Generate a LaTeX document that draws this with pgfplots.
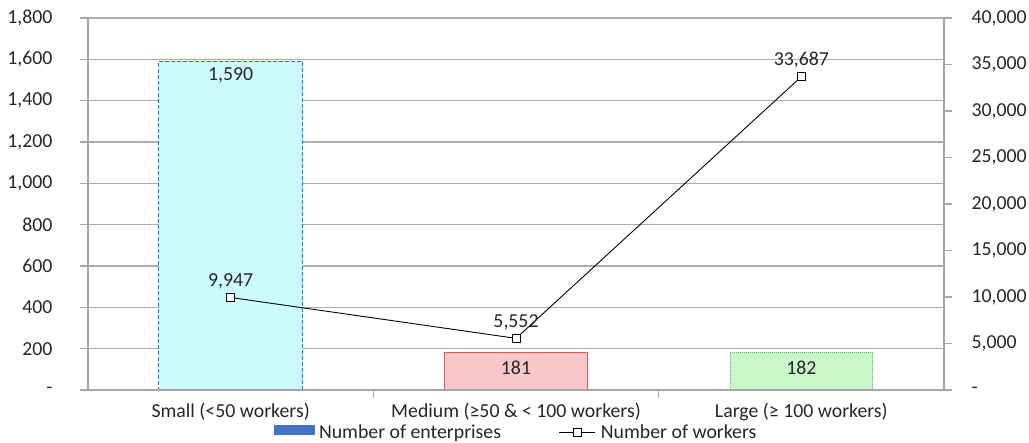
\documentclass[border=0pt]{standalone}
\usepackage{fontspec}
\setmainfont{Carlito}
\usepackage{pgfplots}
\pgfplotsset{compat=1.18}

\definecolor{textcol}{HTML}{262626}
\definecolor{axisgray}{HTML}{A6A6A6}
\definecolor{gridgray}{HTML}{ADADAD}
\definecolor{smallfill}{HTML}{CCFBFD}
\definecolor{smalledge}{HTML}{3366FF}
\definecolor{medfill}{HTML}{F7C8CA}
\definecolor{mededge}{HTML}{E8554E}
\definecolor{largefill}{HTML}{CBF8CB}
\definecolor{largeedge}{HTML}{5DB85D}
\definecolor{legblue}{HTML}{4472C4}

\newcommand\chartfont{\fontsize{19.8}{23}\selectfont}

\pgfplotsset{
  common/.style={
    scale only axis, width=856pt, height=372pt,
    xmin=-0.5, xmax=2.5,
    font=\chartfont,
    axis line style={draw=axisgray, line width=1.2pt, -},
    tick style={draw=axisgray, line width=1.2pt},
    tick align=outside, major tick length=8pt,
    ticklabel style={text=textcol},
    scaled y ticks=false,
    /pgf/number format/assume math mode=true,
    /pgf/number format/1000 sep={,},
  },
  longline legend/.style={
    legend image code/.code={\draw[mark repeat=2, mark phase=2, ##1]
      plot coordinates {(0pt,0pt) (18pt,0pt) (36pt,0pt)};}},
  bar legend/.style={
    legend image code/.code={\fill[legblue] (0pt,-1pt) rectangle (40pt,8pt);}},
}

\begin{document}
\begin{tikzpicture}
% enterprises (left axis)
\begin{axis}[common,
  ymin=0, ymax=1800,
  axis x line*=bottom, axis y line*=left,
  ytick={0,200,...,1800},
  yticklabels={-,200,400,600,800,{1,000},{1,200},{1,400},{1,600},{1,800}},
  yticklabel style={xshift=-24pt},
  ymajorgrids, grid style={draw=gridgray, line width=1.2pt},
  xtick={0,1,2},
  xticklabels={Small (<50 workers), Medium (≥50 \& < 100 workers), Large (≥ 100 workers)},
  x tick style={draw=none},
  xticklabel style={yshift=-1pt},
  nodes near coords,
  nodes near coords align={anchor=north},
  every node near coord/.append style={text=textcol, font=\chartfont},
]
\addplot[ybar, bar width=0.505, bar shift=0pt, fill=smallfill, draw=smalledge,
  dash pattern=on 4pt off 2pt, line width=1pt,
  every node near coord/.append style={yshift=-2pt}] coordinates {(0,1590)};
\addplot[ybar, bar width=0.5, bar shift=0pt, fill=medfill, draw=mededge,
  line width=1pt, every node near coord/.append style={yshift=-5pt}] coordinates {(1,181)};
\addplot[ybar, bar width=0.5, bar shift=0pt, fill=largefill, draw=largeedge,
  densely dotted, line width=1pt, every node near coord/.append style={yshift=-5pt}] coordinates {(2,182)};
\end{axis}

% workers (right axis)
\begin{axis}[common,
  ymin=0, ymax=40000,
  axis x line*=bottom, axis y line*=right,
  ytick={0,5000,...,40000},
  yticklabels={-,{5,000},{10,000},{15,000},{20,000},{25,000},{30,000},{35,000},{40,000}},
  yticklabel style={xshift=16pt},
  xtick={0.5,1.5}, xticklabels={},
  legend columns=2,
  legend style={draw=none, fill=none, at={(0.5,-0.115)}, anchor=center,
    font=\chartfont, text=textcol,
    /tikz/every odd column/.append style={column sep=3pt},
    /tikz/every even column/.append style={column sep=56pt}},
]
\addlegendimage{bar legend}
\addlegendentry{Number of enterprises}
\addplot[black, line width=0.9pt, mark=square*, mark size=4pt,
  mark options={fill=white, solid}, longline legend,
  nodes near coords,
  every node near coord/.append style={anchor=south, inner sep=2pt, yshift=6pt, text=textcol,
    font=\chartfont}]
  coordinates {(0,9947) (1,5552) (2,33687)};
\addlegendentry{Number of workers}
\end{axis}

\pgfresetboundingbox
\path ([xshift=-88pt,yshift=-53pt]current axis.south west)
  rectangle ([xshift=85pt,yshift=18pt]current axis.north east);
\end{tikzpicture}
\end{document}
